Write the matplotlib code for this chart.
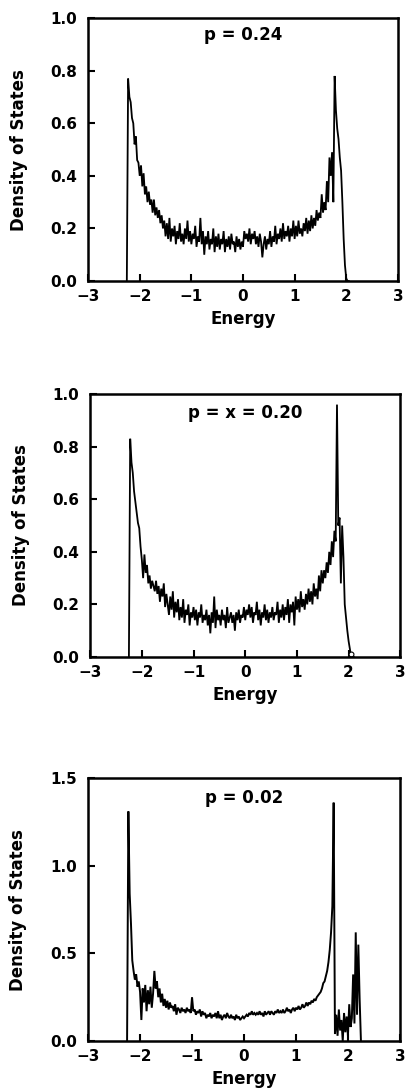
import numpy as np
import matplotlib
matplotlib.use("Agg")
import matplotlib.pyplot as plt

E_STEP = 0.025

# p = 0.24, starts at E = -2.25
dos_p24 = [
    0.00, 0.77, 0.70, 0.68, 0.62, 0.60, 0.52, 0.55, 0.46, 0.45,
    0.40, 0.44, 0.36, 0.41, 0.33, 0.36, 0.30, 0.34, 0.29, 0.31,
    0.26, 0.31, 0.25, 0.28, 0.24, 0.27, 0.22, 0.25, 0.20, 0.23,
    0.17, 0.22, 0.16, 0.24, 0.15, 0.20, 0.17, 0.21, 0.14, 0.19,
    0.16, 0.22, 0.15, 0.18, 0.14, 0.20, 0.16, 0.23, 0.15, 0.19,
    0.14, 0.18, 0.16, 0.21, 0.13, 0.17, 0.15, 0.24, 0.14, 0.19,
    0.10, 0.17, 0.14, 0.19, 0.12, 0.16, 0.14, 0.20, 0.11, 0.17,
    0.13, 0.18, 0.12, 0.16, 0.14, 0.19, 0.11, 0.16, 0.13, 0.17,
    0.12, 0.18, 0.14, 0.15, 0.11, 0.17, 0.13, 0.16, 0.12, 0.15,
    0.13, 0.19, 0.16, 0.18, 0.15, 0.20, 0.14, 0.18, 0.16, 0.19,
    0.14, 0.17, 0.13, 0.18, 0.15, 0.09, 0.14, 0.17, 0.12, 0.16,
    0.14, 0.19, 0.13, 0.17, 0.15, 0.21, 0.14, 0.18, 0.16, 0.20,
    0.15, 0.22, 0.16, 0.19, 0.17, 0.21, 0.15, 0.20, 0.17, 0.23,
    0.16, 0.21, 0.17, 0.23, 0.18, 0.20, 0.17, 0.22, 0.19, 0.24,
    0.18, 0.23, 0.19, 0.25, 0.20, 0.24, 0.21, 0.27, 0.23, 0.26,
    0.24, 0.33, 0.26, 0.30, 0.27, 0.38, 0.30, 0.47, 0.40, 0.49,
    0.30, 0.78, 0.65, 0.58, 0.54, 0.47, 0.42, 0.30, 0.16, 0.06,
    0.01, 0.00, 0.00,
]

# p = x = 0.20, starts at E = -2.25
dos_p20 = [
    0.00, 0.83, 0.74, 0.70, 0.63, 0.59, 0.55, 0.51, 0.49, 0.42,
    0.37, 0.30, 0.39, 0.32, 0.35, 0.28, 0.31, 0.26, 0.29, 0.27,
    0.25, 0.29, 0.24, 0.27, 0.21, 0.26, 0.23, 0.28, 0.19, 0.24,
    0.20, 0.16, 0.23, 0.18, 0.25, 0.15, 0.21, 0.17, 0.22, 0.14,
    0.19, 0.15, 0.22, 0.13, 0.18, 0.16, 0.20, 0.12, 0.17, 0.15,
    0.19, 0.14, 0.18, 0.12, 0.17, 0.15, 0.20, 0.13, 0.16, 0.14,
    0.18, 0.12, 0.16, 0.09, 0.17, 0.13, 0.23, 0.11, 0.18, 0.14,
    0.16, 0.12, 0.18, 0.14, 0.16, 0.11, 0.19, 0.13, 0.15, 0.17,
    0.13, 0.16, 0.10, 0.17, 0.14, 0.18, 0.13, 0.16, 0.15, 0.19,
    0.14, 0.18, 0.16, 0.20, 0.15, 0.19, 0.13, 0.17, 0.16, 0.21,
    0.14, 0.18, 0.12, 0.17, 0.15, 0.20, 0.14, 0.18, 0.13, 0.17,
    0.15, 0.19, 0.14, 0.17, 0.16, 0.21, 0.13, 0.18, 0.15, 0.20,
    0.14, 0.19, 0.16, 0.22, 0.13, 0.20, 0.17, 0.21, 0.12, 0.23,
    0.18, 0.22, 0.17, 0.25, 0.19, 0.22, 0.18, 0.24, 0.20, 0.26,
    0.21, 0.25, 0.20, 0.28, 0.23, 0.26, 0.22, 0.31, 0.25, 0.33,
    0.28, 0.33, 0.30, 0.36, 0.32, 0.40, 0.35, 0.44, 0.38, 0.48,
    0.44, 0.96, 0.50, 0.53, 0.28, 0.50, 0.38, 0.20, 0.15, 0.10,
    0.06, 0.03, 0.00, 0.00, 0.00,
]
circle_p20 = (2.05, 0.01)

# p = 0.02, starts at E = -2.25
dos_p02 = [
    0.00, 1.31, 0.84, 0.67, 0.46, 0.40, 0.35, 0.38, 0.31, 0.34,
    0.28, 0.12, 0.30, 0.22, 0.32, 0.17, 0.29, 0.21, 0.31, 0.19,
    0.27, 0.40, 0.30, 0.34, 0.25, 0.30, 0.22, 0.27, 0.20, 0.24,
    0.19, 0.23, 0.18, 0.22, 0.19, 0.20, 0.17, 0.21, 0.15, 0.19,
    0.18, 0.16, 0.19, 0.17, 0.18, 0.16, 0.19, 0.17, 0.18, 0.16,
    0.25, 0.17, 0.18, 0.15, 0.17, 0.16, 0.18, 0.14, 0.17, 0.15,
    0.16, 0.13, 0.15, 0.14, 0.16, 0.13, 0.15, 0.14, 0.16, 0.13,
    0.17, 0.13, 0.15, 0.12, 0.14, 0.15, 0.13, 0.16, 0.14, 0.13,
    0.15, 0.13, 0.14, 0.12, 0.15, 0.13, 0.14, 0.12, 0.13, 0.14,
    0.13, 0.14, 0.15, 0.14, 0.16, 0.15, 0.17, 0.15, 0.16, 0.15,
    0.16, 0.15, 0.17, 0.15, 0.16, 0.14, 0.17, 0.15, 0.16, 0.17,
    0.15, 0.17, 0.16, 0.15, 0.17, 0.16, 0.18, 0.16, 0.17, 0.16,
    0.18, 0.16, 0.17, 0.19, 0.17, 0.18, 0.16, 0.18, 0.19, 0.17,
    0.19, 0.18, 0.20, 0.18, 0.19, 0.21, 0.19, 0.20, 0.22, 0.20,
    0.22, 0.21, 0.23, 0.22, 0.24, 0.23, 0.25, 0.26, 0.27, 0.28,
    0.30, 0.33, 0.34, 0.37, 0.40, 0.45, 0.52, 0.62, 0.77, 1.36,
    0.04, 0.15, 0.03, 0.18, 0.06, 0.12, 0.00, 0.16, 0.05, 0.14,
    0.03, 0.21, 0.08, 0.13, 0.38, 0.10, 0.62, 0.15, 0.55, 0.24,
    0.00,
]

E_START = [-2.25, -2.25, -2.25]
panel_dos = [dos_p24, dos_p20, dos_p02]
panel_titles = ["p = 0.24", "p = x = 0.20", "p = 0.02"]
panel_ymax = [1.0, 1.0, 1.5]
panel_yticks = [[0.0, 0.2, 0.4, 0.6, 0.8, 1.0],
                [0.0, 0.2, 0.4, 0.6, 0.8, 1.0],
                [0.0, 0.5, 1.0, 1.5]]
xticks = [-3, -2, -1, 0, 1, 2, 3]
xtick_labels = ["\u22123", "\u22122", "\u22121", "0", "1", "2", "3"]

plt.rcParams["font.family"] = "DejaVu Sans"
plt.rcParams["font.weight"] = "bold"
plt.rcParams["axes.labelweight"] = "bold"

fig = plt.figure(figsize=(4.06, 10.91), dpi=100)

# axes rectangles in figure fractions (left, bottom, width, height)
rects = [
    [0.217, 0.7424, 0.763, 0.241],
    [0.222, 0.3978, 0.764, 0.241],
    [0.217, 0.0458, 0.768, 0.241],
]
title_y = [0.935, 0.928, 0.924]
line_w = [1.3, 1.3, 1.4]

for i in range(3):
    ax = fig.add_axes(rects[i])
    dos = np.array(panel_dos[i])
    energy = E_START[i] + E_STEP * np.arange(len(dos))
    ax.plot(energy, dos, color="black", lw=line_w[i], solid_joinstyle="miter")
    if i == 1:
        ax.plot([circle_p20[0]], [circle_p20[1]], marker="o", ms=3.5,
                mfc="white", mec="black", mew=0.8)

    ax.set_xlim(-3, 3)
    ax.set_ylim(0, panel_ymax[i])
    ax.set_xticks(xticks)
    ax.set_xticklabels(xtick_labels)
    ax.set_yticks(panel_yticks[i])
    ax.set_yticklabels([f"{v:.1f}" for v in panel_yticks[i]])
    ax.tick_params(direction="in", length=5, width=1.5, labelsize=11)
    ax.tick_params(axis="x", pad=6)
    ax.tick_params(axis="y", pad=8)
    for s in ax.spines.values():
        s.set_linewidth(1.8)

    ax.set_xlabel("Energy", fontsize=12, labelpad=4)
    ax.set_ylabel("Density of States", fontsize=12)
    ax.yaxis.set_label_coords(-0.195, 0.5)
    ax.text(0.5, title_y[i], panel_titles[i], transform=ax.transAxes,
            ha="center", va="center", fontsize=12, fontweight="bold")

plt.savefig("out.png", dpi=100)
plt.close()
